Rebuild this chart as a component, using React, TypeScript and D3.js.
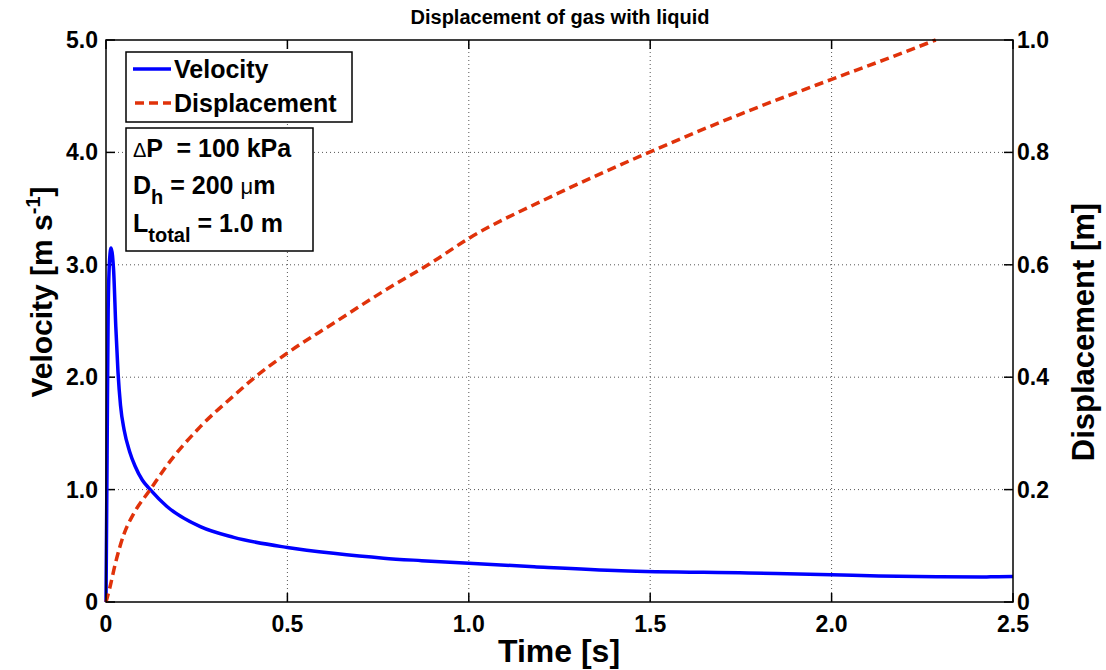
import React from "react";
import * as d3 from "d3";

// ---- data ----
const xTicks = [0, 0.5, 1.0, 1.5, 2.0, 2.5];
const xTickLabels = ["0", "0.5", "1.0", "1.5", "2.0", "2.5"];
const vTicks = [0, 1, 2, 3, 4, 5];
const vTickLabels = ["0", "1.0", "2.0", "3.0", "4.0", "5.0"];
const dTicks = [0, 0.2, 0.4, 0.6, 0.8, 1.0];
const dTickLabels = ["0", "0.2", "0.4", "0.6", "0.8", "1.0"];

const velTime = [0, 0.003, 0.006, 0.010, 0.014, 0.018, 0.021, 0.027, 0.033, 0.040, 0.050, 0.065, 0.080, 0.100, 0.122, 0.168, 0.260, 0.352, 0.500, 0.627, 0.765, 0.870, 1.000, 1.180, 1.420, 1.770, 2.000, 2.130, 2.300, 2.420, 2.450, 2.500];
const velocity = [0, 1.30, 2.60, 3.05, 3.15, 3.08, 2.95, 2.45, 2.05, 1.75, 1.53, 1.34, 1.21, 1.085, 1.00, 0.85, 0.67, 0.575, 0.485, 0.433, 0.390, 0.368, 0.344, 0.314, 0.279, 0.258, 0.243, 0.232, 0.224, 0.222, 0.225, 0.227];

const dispTime = [0, 0.010, 0.026, 0.049, 0.077, 0.122, 0.168, 0.260, 0.352, 0.407, 0.500, 0.627, 0.765, 0.900, 1.000, 1.216, 1.500, 1.756, 2.000, 2.150, 2.287];
const displacement = [0, 0.024, 0.069, 0.120, 0.158, 0.200, 0.243, 0.312, 0.367, 0.398, 0.443, 0.496, 0.553, 0.605, 0.647, 0.718, 0.801, 0.870, 0.930, 0.966, 1.000];

const W = 1106, H = 670;
const L = 106, R = 1013, T = 40, B = 602;
const FONT = "'Liberation Sans', Arial, Helvetica, sans-serif";
const RED = "#e0320a";
const BLUE = "#0000ff";

export default function App() {
  const x = d3.scaleLinear().domain([0, 2.5]).range([L, R]);
  const yv = d3.scaleLinear().domain([0, 5]).range([B, T]);
  const yd = d3.scaleLinear().domain([0, 1]).range([B, T]);

  const velPts: [number, number][] = velTime.map((t, i) => [t, velocity[i]]);
  const dispPts: [number, number][] = dispTime.map((t, i) => [t, displacement[i]]);

  const velLine = d3.line<[number, number]>().x(d => x(d[0])).y(d => yv(d[1])).curve(d3.curveMonotoneX);
  const dispLine = d3.line<[number, number]>().x(d => x(d[0])).y(d => yd(d[1])).curve(d3.curveMonotoneX);

  const tickLen = 9;

  return (
    <svg width={W} height={H} style={{ position: "absolute", left: 0, top: 0, background: "#fff" }} fontFamily={FONT}>
      <rect x={0} y={0} width={W} height={H} fill="#fff" />
      {/* grid */}
      {xTicks.slice(1, -1).map((t, i) => (
        <line key={"gx" + i} x1={x(t)} x2={x(t)} y1={T} y2={B} stroke="#555" strokeWidth={1} strokeDasharray="1,3" />
      ))}
      {vTicks.slice(1, -1).map((v, i) => (
        <line key={"gy" + i} x1={L} x2={R} y1={yv(v)} y2={yv(v)} stroke="#555" strokeWidth={1} strokeDasharray="1,3" />
      ))}
      {/* ticks */}
      {xTicks.map((t, i) => (
        <g key={"tx" + i}>
          <line x1={x(t)} x2={x(t)} y1={B} y2={B - tickLen} stroke="#000" strokeWidth={1.5} />
          <line x1={x(t)} x2={x(t)} y1={T} y2={T + tickLen} stroke="#000" strokeWidth={1.5} />
          <text x={x(t)} y={632} textAnchor="middle" fontSize={23} fontWeight="bold">{xTickLabels[i]}</text>
        </g>
      ))}
      {vTicks.map((v, i) => (
        <g key={"tv" + i}>
          <line x1={L} x2={L + tickLen} y1={yv(v)} y2={yv(v)} stroke="#000" strokeWidth={1.5} />
          <text x={98} y={yv(v) + 8} textAnchor="end" fontSize={23} fontWeight="bold">{vTickLabels[i]}</text>
        </g>
      ))}
      {dTicks.map((d, i) => (
        <g key={"td" + i}>
          <line x1={R} x2={R - tickLen} y1={yd(d)} y2={yd(d)} stroke="#000" strokeWidth={1.5} />
          <text x={1017} y={yd(d) + 8} textAnchor="start" fontSize={23} fontWeight="bold">{dTickLabels[i]}</text>
        </g>
      ))}
      {/* data */}
      <path d={velLine(velPts) || ""} fill="none" stroke={BLUE} strokeWidth={3.5} strokeLinejoin="round" />
      <path d={dispLine(dispPts) || ""} fill="none" stroke={RED} strokeWidth={3.5} strokeDasharray="9,5" />
      {/* frame */}
      <rect x={L} y={T} width={R - L} height={B - T} fill="none" stroke="#000" strokeWidth={1.5} />

      {/* legend */}
      <rect x={126} y={52} width={226} height={70} fill="#fff" stroke="#000" strokeWidth={1.5} />
      <line x1={133} x2={171} y1={69} y2={69} stroke={BLUE} strokeWidth={3.5} />
      <text x={174} y={78} fontSize={25} fontWeight="bold">Velocity</text>
      <line x1={133} x2={171} y1={103} y2={103} stroke={RED} strokeWidth={3.5} strokeDasharray="9,5" strokeDashoffset={-2} />
      <text x={174} y={112} fontSize={25} fontWeight="bold">Displacement</text>

      {/* annotation */}
      <rect x={126} y={128} width={187} height={123} fill="#fff" stroke="#000" strokeWidth={1.5} />
      <text x={133} y={157} fontSize={25} fontWeight="bold" style={{ whiteSpace: "pre" }}>
        <tspan fontSize={20} fontWeight="normal">Δ</tspan>
        <tspan>{"P  = 100 kPa"}</tspan>
      </text>
      <text x={133} y={194} fontSize={25} fontWeight="bold" style={{ whiteSpace: "pre" }}>
        <tspan>D</tspan>
        <tspan fontSize={20} dy={10}>h</tspan>
        <tspan dy={-10}>{" = 200 "}</tspan>
        <tspan fontSize={22} fontWeight="normal">μ</tspan>
        <tspan>m</tspan>
      </text>
      <text x={133} y={232} fontSize={25} fontWeight="bold" style={{ whiteSpace: "pre" }}>
        <tspan>L</tspan>
        <tspan fontSize={20} dy={10}>total</tspan>
        <tspan dy={-10}>{" = 1.0 m"}</tspan>
      </text>

      {/* title */}
      <text x={560} y={24} textAnchor="middle" fontSize={20} fontWeight="bold">Displacement of gas with liquid</text>
      {/* axis labels */}
      <text x={559} y={662} textAnchor="middle" fontSize={32} fontWeight="bold">Time [s]</text>
      <text transform={`translate(52,292) rotate(-90)`} textAnchor="middle" fontSize={30} fontWeight="bold">
        <tspan>Velocity [m s</tspan>
        <tspan fontSize={20} dy={-12}>-1</tspan>
        <tspan dy={12}>]</tspan>
      </text>
      <text transform={`translate(1094,332) rotate(-90)`} textAnchor="middle" fontSize={31} fontWeight="bold">Displacement [m]</text>
    </svg>
  );
}
